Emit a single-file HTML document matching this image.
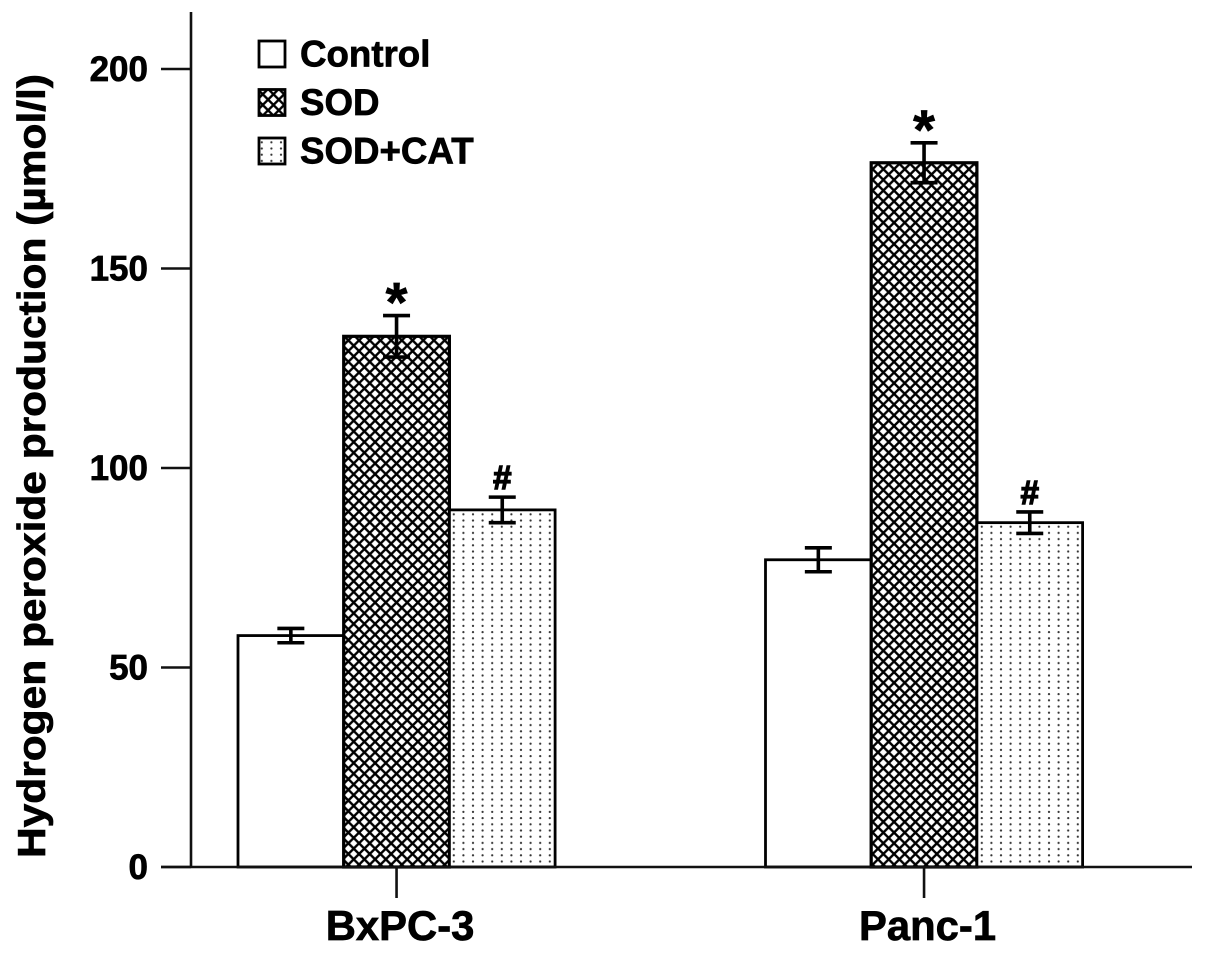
<!DOCTYPE html>
<html>
<head>
<meta charset="utf-8">
<style>
html,body{margin:0;padding:0;background:#fff;width:1205px;height:954px;overflow:hidden}
svg{display:block}
text{font-family:"Liberation Sans",sans-serif;font-weight:bold;fill:#000;stroke:#000;stroke-width:0.7px}
</style>
</head>
<body>
<svg id="chart" width="1205" height="954" viewBox="0 0 1205 954" xmlns="http://www.w3.org/2000/svg">
<defs>
<pattern id="cross" patternUnits="userSpaceOnUse" width="10.7" height="10.7" x="343" y="335">
<rect width="10.7" height="10.7" fill="#fff"/>
<path d="M-1,-1 L11.7,11.7 M-1,11.7 L11.7,-1 M-1,9.7 L1,11.7 M9.7,-1 L11.7,1 M-1,1 L1,-1 M9.7,11.7 L11.7,9.7" stroke="#000" stroke-width="2.4"/>
</pattern>
<pattern id="dots" patternUnits="userSpaceOnUse" width="9.6" height="12.4" x="449" y="505">
<rect width="9.6" height="12.4" fill="#fff"/>
<circle cx="4.8" cy="3.1" r="1.1" fill="#333"/>
<circle cx="4.8" cy="9.3" r="1.1" fill="#333"/>
</pattern>
</defs>
<g id="plot"></g>
<text transform="translate(45,466) rotate(-90)" text-anchor="middle" font-size="38.5" textLength="784" lengthAdjust="spacingAndGlyphs">Hydrogen peroxide production (µmol/l)</text>
</svg>
<script>
const categories = ["BxPC-3", "Panc-1"];
const seriesNames = ["Control", "SOD", "SOD+CAT"];
const controlValues = [58, 77];
const sodValues = [133, 176.5];
const sodCatValues = [89.5, 86.3];
const controlErrors = [1.8, 3];
const sodErrors = [5.2, 5];
const sodCatErrors = [3.2, 2.7];
const sodMarks = ["*", "*"];
const sodCatMarks = ["#", "#"];
const yTicks = [0, 50, 100, 150, 200];

const NS = "http://www.w3.org/2000/svg";
const plot = document.getElementById("plot");
const y = v => 867 - v * 3.99;
const groupLeft = i => 238 + i * 527.5;
const BAR_W = 105.7;
const barX = (g, s) => groupLeft(g) + s * BAR_W;

function mk(tag, attrs, parent, text) {
  const el = document.createElementNS(NS, tag);
  for (const k in attrs) el.setAttribute(k, attrs[k]);
  if (text !== undefined) el.textContent = text;
  (parent || plot).appendChild(el);
  return el;
}
const fills = ["#fff", "url(#cross)", "url(#dots)"];
const values = [controlValues, sodValues, sodCatValues];
const errors = [controlErrors, sodErrors, sodCatErrors];

// bars
categories.forEach((c, g) => {
  seriesNames.forEach((n, s) => {
    const v = values[s][g];
    const r = mk("rect", {x: barX(g, s), y: y(v), width: BAR_W, height: y(0) - y(v), fill: fills[s], stroke: "#000", "stroke-width": s === 1 ? 3.2 : 2.8});
    
    
  });
});
// error bars
categories.forEach((c, g) => {
  seriesNames.forEach((n, s) => {
    const v = values[s][g], e = errors[s][g];
    const cx = barX(g, s) + BAR_W / 2;
    const eg = mk("path", {d: `M${cx},${y(v + e)} V${y(v - e)} M${cx - 13.5},${y(v + e)} H${cx + 13.5} M${cx - 13.5},${y(v - e)} H${cx + 13.5}`, stroke: "#000", "stroke-width": 3.6, fill: "none"});
    
    
  });
  const cxS = barX(g, 1) + BAR_W / 2;
  const star = mk("text", {x: cxS, y: y(sodValues[g] + sodErrors[g]) + 6, "text-anchor": "middle", "font-size": 56}, plot, sodMarks[g]);
  
  
  const cxC = barX(g, 2) + BAR_W / 2;
  const hash = mk("text", {x: cxC, y: y(sodCatValues[g] + sodCatErrors[g]) - 8, "text-anchor": "middle", "font-size": 33, style: "stroke-width:1.4px"}, plot, sodCatMarks[g]);
  
  
});
// axes
const yAxis = mk("line", {x1: 191, y1: 12, x2: 191, y2: 868, stroke: "#111", "stroke-width": 2.6});


const xAxis = mk("line", {x1: 161, y1: 867, x2: 1192, y2: 867, stroke: "#111", "stroke-width": 2.6});


yTicks.forEach(t => {
  const tk = mk("line", {x1: 161, y1: y(t), x2: 191, y2: y(t), stroke: "#111", "stroke-width": 2.6});
  
  
  const lb = mk("text", {x: 148, y: y(t) + 12, "text-anchor": "end", "font-size": 35}, plot, String(t));
  
  
});
categories.forEach((c, g) => {
  const cx = barX(g, 1) + BAR_W / 2;
  const tk = mk("line", {x1: cx, y1: 867, x2: cx, y2: 898, stroke: "#111", "stroke-width": 2.6});
  
  
  const lb = mk("text", {x: cx + 3.5, y: 940, "text-anchor": "middle", "font-size": 41.8}, plot, c);
  
  
});
// legend
seriesNames.forEach((n, s) => {
  const ly = 41 + s * 48.5;
  const sw = mk("rect", {x: 259, y: ly, width: 26, height: 26, fill: fills[s], stroke: "#000", "stroke-width": 2.8});
  
  
  const lt = mk("text", {x: 300, y: ly + 25.5, "font-size": 36.7}, plot, n);
  
  
});
</script>
</body>
</html>
